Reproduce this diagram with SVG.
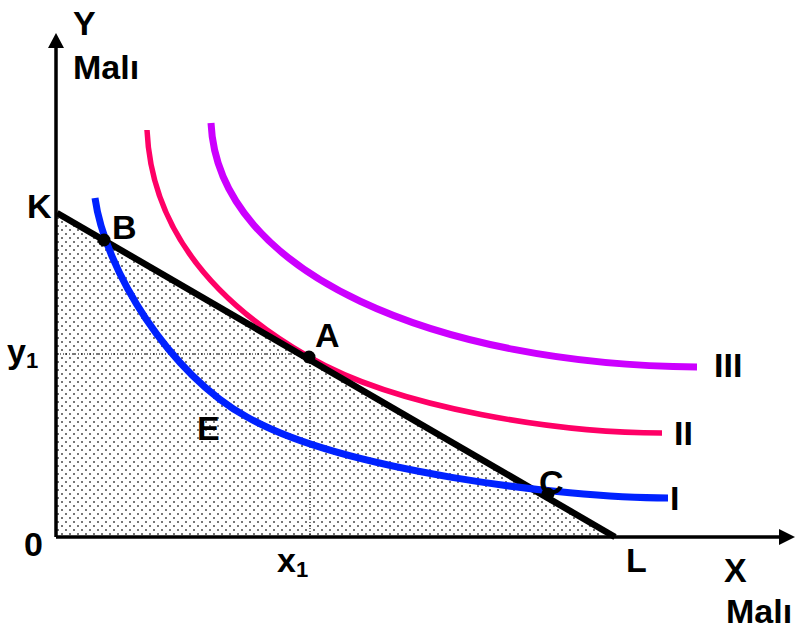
<svg xmlns="http://www.w3.org/2000/svg" width="796" height="629" viewBox="0 0 796 629">
<defs>
<pattern id="dots" width="8" height="8" patternUnits="userSpaceOnUse">
<rect width="8" height="8" fill="#fff"/>
<rect x="1" y="1" width="2" height="2" fill="#777"/>
<rect x="5" y="5" width="2" height="2" fill="#777"/>
</pattern>
<style>
text{font-family:"Liberation Sans",Arial,sans-serif;font-weight:bold;font-size:34px;fill:#000}
.sub{font-size:22px}
.curve{fill:none;stroke-linecap:butt}
.dot{fill:#000}
.guide{stroke:#000;stroke-width:1;stroke-dasharray:1 2;fill:none}
</style>
</defs>
<rect width="796" height="629" fill="#fff"/>
<g id="area">
<polygon points="57,213 615,537 57,537" fill="url(#dots)"/>
</g>
<g id="connectors">
<line class="guide" x1="57" y1="354" x2="309" y2="354"/>
<line class="guide" x1="310" y1="357" x2="310" y2="537"/>
<line x1="56" y1="537" x2="56" y2="46" stroke="#000" stroke-width="3.5"/>
<polygon points="56,33 48,48 64,48" fill="#000"/>
<line x1="56" y1="537" x2="781" y2="537" stroke="#000" stroke-width="3.5"/>
<polygon points="795,537 779,529 779,545" fill="#000"/>
</g>
<g id="curve-III">
<path class="curve" d="M211,123 C218,275 440,365 697,367" stroke="#CC00FF" stroke-width="7"/>
</g>
<g id="curve-II">
<path class="curve" d="M147,130 C152,240 229,311 309,357 C399,409 560,433 662,433" stroke="#FF0066" stroke-width="5.5"/>
</g>
<g id="budget-line">
<line x1="57" y1="213" x2="615" y2="537" stroke="#000" stroke-width="6.5"/>
</g>
<g id="curve-I">
<path class="curve" d="M95,198 C105,270 170,375 247,417 C340,470 560,498 668,498" stroke="#0022FF" stroke-width="7"/>
</g>
<g id="point-B"><circle class="dot" cx="104" cy="240" r="6.5"/><text x="112" y="239">B</text></g>
<g id="point-A"><circle class="dot" cx="309" cy="357" r="6.5"/><text x="315" y="347">A</text></g>
<g id="point-C"><circle class="dot" cx="548" cy="494" r="6.5"/><text x="539" y="494">C</text></g>
<g id="labels">
<text x="73" y="35">Y</text>
<text x="73" y="79">Malı</text>
<text x="27" y="218">K</text>
<text x="7" y="363">y<tspan class="sub" dy="5">1</tspan></text>
<text x="197" y="440">E</text>
<text x="24" y="556">0</text>
<text x="277" y="572">x<tspan class="sub" dy="5">1</tspan></text>
<text x="626" y="572">L</text>
<text x="724" y="582">X</text>
<text x="726" y="623">Malı</text>
<text x="714" y="377">III</text>
<text x="674" y="445">II</text>
<text x="670" y="510">I</text>
</g>
</svg>
